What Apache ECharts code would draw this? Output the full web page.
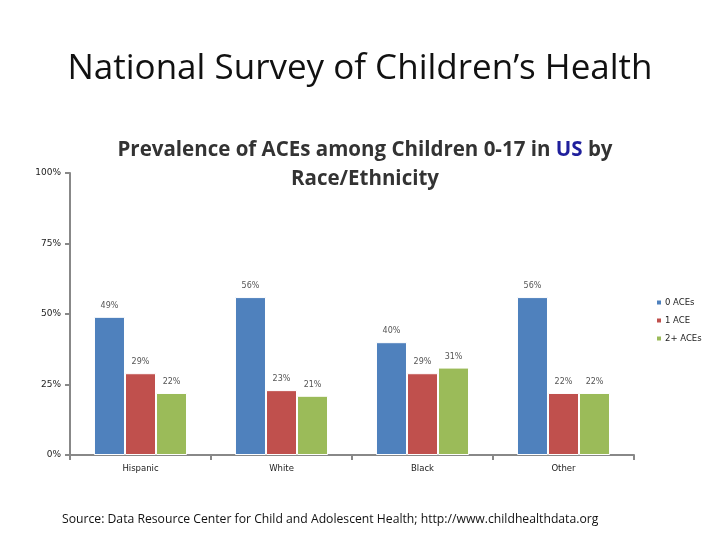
<!DOCTYPE html>
<html>
<head>
<meta charset="utf-8">
<script src="https://cdn.jsdelivr.net/npm/echarts@6/dist/echarts.min.js"></script>
<style>
html, body { margin: 0; padding: 0; background: #fff; }
#main { width: 720px; height: 540px; }
</style>
</head>
<body>
<div id="main"></div>
<script>
// 数据
var categories = ['Hispanic', 'White', 'Black', 'Other'];
var seriesNames = ['0 ACEs', '1 ACE', '2+ ACEs'];
var zeroAces = [49, 56, 40, 56];
var oneAce = [29, 23, 29, 22];
var twoPlusAces = [22, 21, 31, 22];
var yTicks = [0, 25, 50, 75, 100];
var colors = ['#4F81BD', '#C0504D', '#9BBB59'];

var chart = echarts.init(document.getElementById('main'));

function barSeries(name, data, color) {
    return {
        name: name,
        type: 'bar',
        data: data,
        barGap: '0%',
        barCategoryGap: '34%',
        itemStyle: {
            color: color,
            borderColor: '#fff',
            borderWidth: 1
        },
        label: {
            show: true,
            position: 'top',
            distance: 7,
            fontSize: 8,
            color: '#555',
            fontFamily: 'DejaVu Sans',
            formatter: '{c}%'
        }
    };
}

var option = {
    backgroundColor: '#fff',
    color: colors,
    animation: false,
    title: [{
        text: 'National Survey of Children\u2019s Health',
        left: 355,
        top: 47,
        textAlign: 'center',
        textStyle: {
            fontFamily: 'Open Sans',
            fontWeight: 'normal',
            fontSize: 35,
            color: '#111'
        }
    }, {
        text: 'Prevalence of ACEs among Children 0-17 in {us|US} by\nRace/Ethnicity',
        left: 360,
        top: 131,
        textAlign: 'center',
        textStyle: {
            fontFamily: 'Open Sans',
            fontWeight: 'bold',
            fontSize: 20.5,
            lineHeight: 29,
            color: '#333',
            rich: {
                us: {
                    fontFamily: 'Open Sans',
                    fontWeight: 'bold',
                    fontSize: 20.5,
                    color: '#1F1F9C'
                }
            }
        }
    }, {
        text: 'Source: Data Resource Center for Child and Adolescent Health; http://www.childhealthdata.org',
        left: 57,
        top: 509,
        textStyle: {
            fontFamily: 'Open Sans',
            fontWeight: 'normal',
            fontSize: 12.2,
            color: '#111'
        }
    }],
    legend: {
        data: seriesNames,
        orient: 'vertical',
        left: 650,
        top: 293,
        itemWidth: 6,
        itemHeight: 6,
        itemGap: 9,
        icon: 'rect',
        textStyle: {
            fontFamily: 'DejaVu Sans',
            fontSize: 8.5,
            color: '#222',
            padding: [0, 0, 0, -2]
        }
    },
    grid: {
        left: 70,
        right: 86,
        top: 173,
        bottom: 85
    },
    xAxis: {
        type: 'category',
        data: categories,
        axisLine: { lineStyle: { color: '#888', width: 2 } },
        axisTick: { show: true, length: 5, lineStyle: { color: '#888', width: 2 } },
        axisLabel: {
            fontFamily: 'DejaVu Sans',
            fontSize: 8.5,
            color: '#222',
            margin: 9
        }
    },
    yAxis: {
        type: 'value',
        min: yTicks[0],
        max: yTicks[yTicks.length - 1],
        interval: 25,
        axisLine: { show: true, lineStyle: { color: '#888', width: 2 } },
        axisTick: { show: true, length: 5, lineStyle: { color: '#888', width: 2 } },
        splitLine: { show: false },
        axisLabel: {
            fontFamily: 'DejaVu Sans',
            fontSize: 9,
            color: '#222',
            margin: 9,
            formatter: '{value}%'
        }
    },
    series: [
        barSeries(seriesNames[0], zeroAces, colors[0]),
        barSeries(seriesNames[1], oneAce, colors[1]),
        barSeries(seriesNames[2], twoPlusAces, colors[2])
    ]
};

chart.setOption(option);
</script>
</body>
</html>
